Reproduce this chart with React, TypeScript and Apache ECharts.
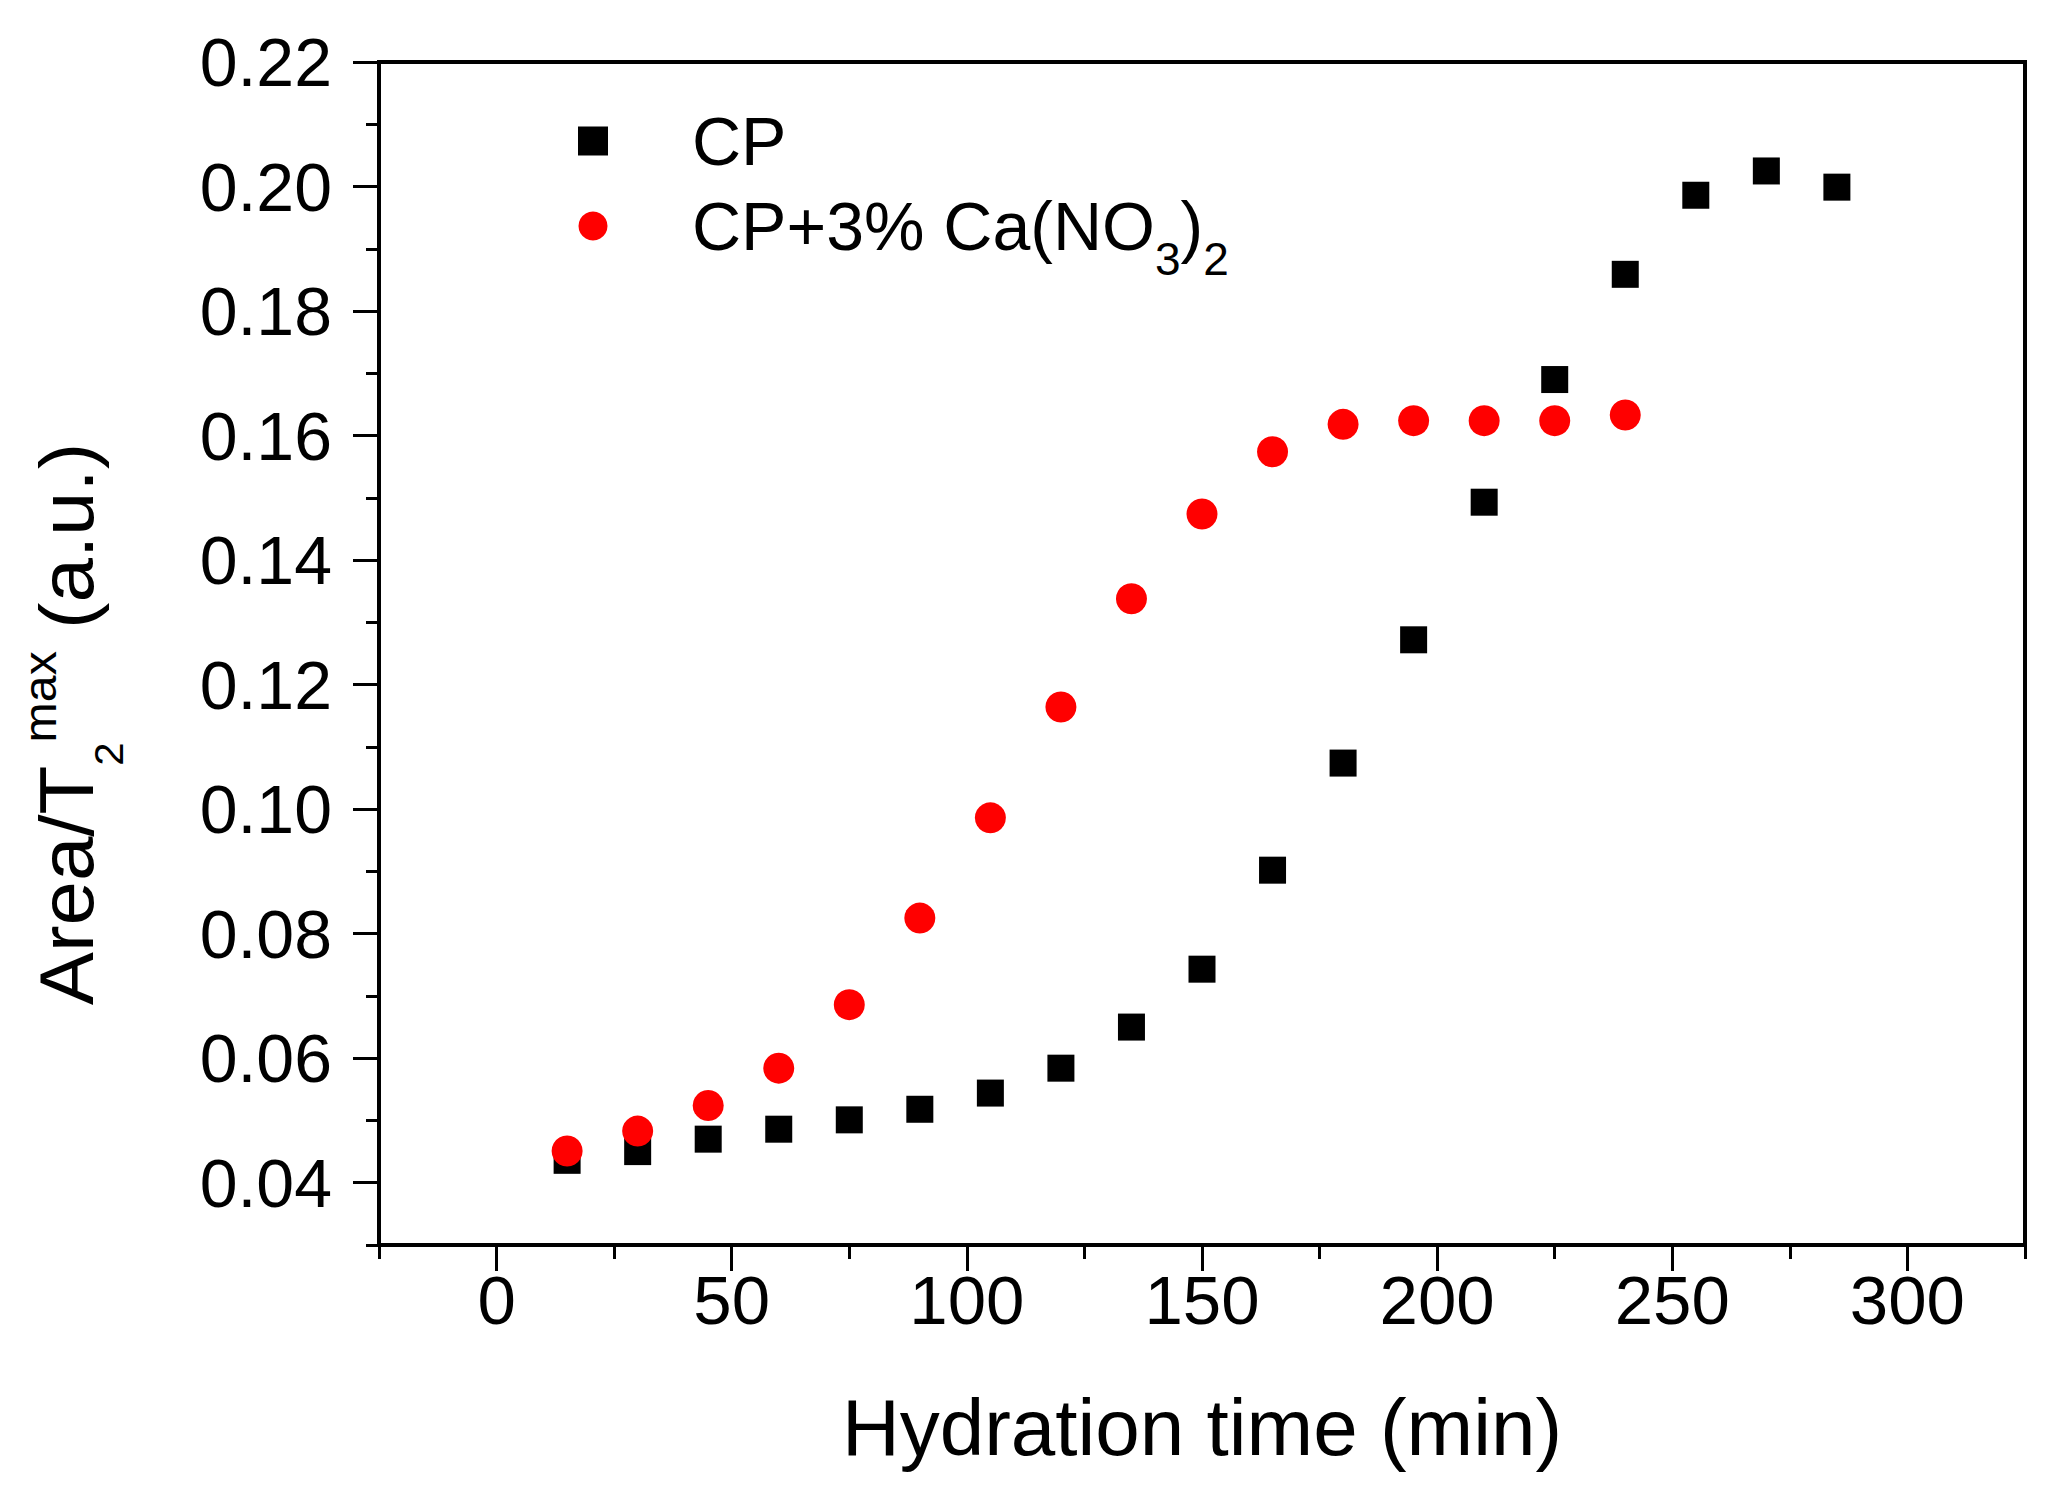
import { useEffect, useRef } from "react";
import * as echarts from "echarts";

// hydration time (min) and Area/T2max values
const timeCP = [15, 30, 45, 60, 75, 90, 105, 120, 135, 150, 165, 180, 195, 210, 225, 240, 255, 270, 285];
const areaCP = [
  0.0436, 0.045, 0.047, 0.0486, 0.0501, 0.0518, 0.0544, 0.0584, 0.065, 0.0743,
  0.0902, 0.1074, 0.1272, 0.1493, 0.169, 0.1859, 0.1986, 0.2025, 0.1999,
];
const timeCa = [15, 30, 45, 60, 75, 90, 105, 120, 135, 150, 165, 180, 195, 210, 225, 240];
const areaCa = [
  0.0451, 0.0483, 0.0524, 0.0584, 0.0686, 0.0825, 0.0986, 0.1164, 0.1338, 0.1474,
  0.1574, 0.1618, 0.1624, 0.1624, 0.1624, 0.1633,
];
const seriesNames = ["CP", "CP+3% Ca(NO3)2"];

const xTicks = [0, 50, 100, 150, 200, 250, 300];
const xMinorTicks = [-25, 25, 75, 125, 175, 225, 275, 325];
const yTicks = [0.04, 0.06, 0.08, 0.1, 0.12, 0.14, 0.16, 0.18, 0.2, 0.22];
const yMinorTicks = [0.03, 0.05, 0.07, 0.09, 0.11, 0.13, 0.15, 0.17, 0.19, 0.21];

const FONT = "'Liberation Sans', Arial, sans-serif";

const App = () => {
  const chartRef = useRef<HTMLDivElement>(null);

  useEffect(() => {
    if (!chartRef.current) return;
    const chart = echarts.init(chartRef.current, null, { renderer: "svg" });

    const axisLine = { onZero: false, lineStyle: { color: "#000", width: 4 } };
    const tickStyle = { color: "#000", width: 3 };

    const option = {
      animation: false,
      backgroundColor: "#fff",
      grid: {
        left: 379,
        right: 37,
        top: 62,
        bottom: 259,
        show: true,
        borderColor: "#000",
        borderWidth: 4,
      },
      legend: {
        orient: "vertical",
        left: 578,
        top: 107,
        padding: 0,
        itemWidth: 30,
        itemHeight: 29,
        // the subscripts make the second item taller, so the gap is pulled in
        itemGap: -5,
        data: seriesNames,
        formatter: (name: string) =>
          name === "CP" ? "{n|CP}" : "{n|CP+3% Ca(NO}{s|3}{n|)}{s|2}",
        textStyle: {
          color: "#000",
          fontFamily: FONT,
          fontSize: 68,
          lineHeight: 60,
          padding: [0, 0, 0, 79],
          rich: {
            n: { fontFamily: FONT, fontSize: 68, lineHeight: 60, color: "#000" },
            s: {
              fontFamily: FONT,
              fontSize: 46,
              lineHeight: 46,
              color: "#000",
              padding: [66, 0, 0, 0],
            },
          },
        },
      },
      xAxis: [
        {
          type: "value",
          min: -25,
          max: 325,
          position: "bottom",
          axisLine,
          axisTick: { customValues: xTicks, length: 26, lineStyle: tickStyle },
          axisLabel: {
            customValues: xTicks,
            fontFamily: FONT,
            fontSize: 69,
            color: "#000",
            margin: 21,
          },
          splitLine: { show: false },
          name: "Hydration time (min)",
          nameLocation: "middle",
          nameGap: 142,
          nameTextStyle: { fontFamily: FONT, fontSize: 80, color: "#000" },
        },
        {
          type: "value",
          min: -25,
          max: 325,
          position: "bottom",
          axisLine: { show: false, onZero: false },
          axisTick: { customValues: xMinorTicks, length: 14, lineStyle: tickStyle },
          axisLabel: { show: false },
          splitLine: { show: false },
        },
      ],
      yAxis: [
        {
          type: "value",
          min: 0.03,
          max: 0.22,
          position: "left",
          axisLine,
          axisTick: { customValues: yTicks, length: 26, lineStyle: tickStyle },
          axisLabel: {
            customValues: yTicks,
            formatter: (v: number) => v.toFixed(2),
            fontFamily: FONT,
            fontSize: 68,
            color: "#000",
            margin: 47,
          },
          splitLine: { show: false },
        },
        {
          type: "value",
          min: 0.03,
          max: 0.22,
          position: "left",
          axisLine: { show: false, onZero: false },
          axisTick: { customValues: yMinorTicks, length: 13, lineStyle: tickStyle },
          axisLabel: { show: false },
          splitLine: { show: false },
        },
      ],
      series: [
        {
          type: "scatter",
          name: seriesNames[0],
          symbol: "rect",
          symbolSize: 27,
          itemStyle: { color: "#000", opacity: 1 },
          data: timeCP.map((t, i) => [t, areaCP[i]]),
        },
        {
          type: "scatter",
          name: seriesNames[1],
          symbol: "circle",
          symbolSize: 31,
          itemStyle: { color: "#ff0000", opacity: 1 },
          data: timeCa.map((t, i) => [t, areaCa[i]]),
        },
      ],
      graphic: [
        {
          type: "text",
          x: 67,
          y: 724,
          rotation: Math.PI / 2,
          scaleX: 1.05,
          style: {
            text: "{n|Area/T}{sub|2}{sup|max}{n| (a.u.)}",
            fill: "#000",
            fontFamily: FONT,
            fontSize: 76,
            align: "center",
            verticalAlign: "middle",
            textAlign: "center",
            textVerticalAlign: "middle",
            rich: {
              n: { fontFamily: FONT, fontSize: 76, lineHeight: 80, fill: "#000" },
              sub: {
                fontFamily: FONT,
                fontSize: 40,
                lineHeight: 40,
                fill: "#000",
                padding: [84, 0, 0, 0],
              },
              sup: {
                fontFamily: FONT,
                fontSize: 46,
                lineHeight: 46,
                fill: "#000",
                padding: [0, 0, 54, 0],
              },
            },
          },
        },
      ],
    };

    chart.setOption(option);

    return () => {
      chart.dispose();
    };
  }, []);

  return (
    <div
      ref={chartRef}
      style={{ position: "fixed", left: 0, top: 0, width: 2062, height: 1504 }}
    />
  );
};

export default App;
